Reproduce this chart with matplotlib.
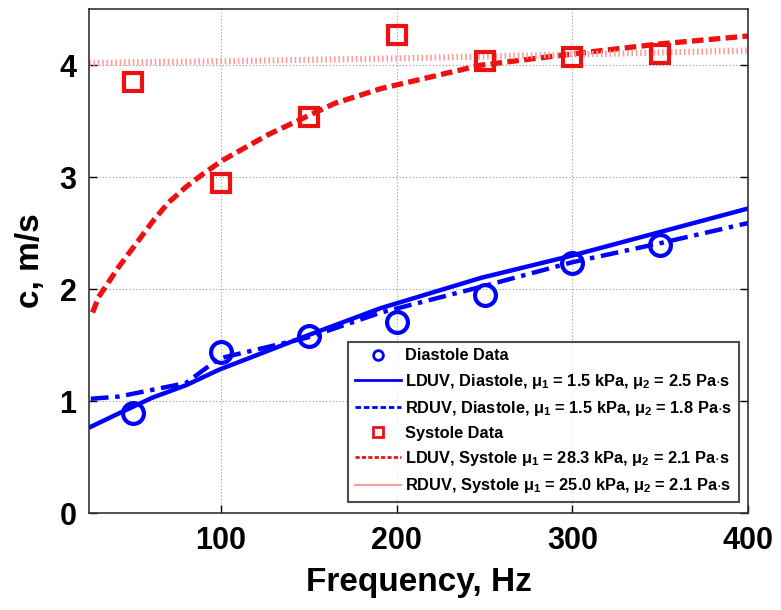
import matplotlib
matplotlib.use("Agg")
import matplotlib.pyplot as plt
import matplotlib.lines as mlines

fam = "Liberation Sans"
plt.rcParams["font.family"] = [fam, "DejaVu Sans"]
plt.rcParams["font.weight"] = "bold"
plt.rcParams["mathtext.fontset"] = "custom"
plt.rcParams["mathtext.rm"] = fam + ":bold"
plt.rcParams["mathtext.it"] = fam + ":bold"

# Measured data
freq_data = [50, 100, 150, 200, 250, 300, 350]
diastole_c = [0.89, 1.44, 1.58, 1.71, 1.95, 2.23, 2.39]
systole_c = [3.85, 2.95, 3.54, 4.27, 4.04, 4.07, 4.10]

# Model curves
f_ldd = [26, 42, 61, 80, 99, 150, 191, 248, 300, 350, 400]
c_ldd = [0.77, 0.89, 1.03, 1.14, 1.28, 1.59, 1.83, 2.10, 2.30, 2.51, 2.72]
f_rdd = [26, 42, 61, 80, 99, 150, 191, 248, 300, 350, 400]
c_rdd = [1.02, 1.04, 1.10, 1.16, 1.38, 1.57, 1.79, 2.02, 2.24, 2.41, 2.59]
f_lds = [27, 30.5, 42, 52, 61, 70, 80, 90, 101, 127, 150, 165, 191, 248, 300, 350, 400]
c_lds = [1.79, 1.93, 2.20, 2.41, 2.60, 2.77, 2.91, 3.03, 3.15, 3.38, 3.55, 3.66, 3.79, 4.00, 4.10, 4.19, 4.26]
f_rds = [25, 100, 200, 300, 400]
c_rds = [4.02, 4.035, 4.06, 4.095, 4.13]

labels = [
    "Diastole Data",
    r"LDUV, Diastole, $\mu_1$ = 1.5 kPa, $\mu_2$ = 2.5 Pa$\cdot$s",
    r"RDUV, Diastole, $\mu_1$ = 1.5 kPa, $\mu_2$ = 1.8 Pa$\cdot$s",
    "Systole Data",
    r"LDUV, Systole $\mu_1$ = 28.3 kPa, $\mu_2$ = 2.1 Pa$\cdot$s",
    r"RDUV, Systole $\mu_1$ = 25.0 kPa, $\mu_2$ = 2.1 Pa$\cdot$s",
]
xticks = [100, 200, 300, 400]
yticks = [0, 1, 2, 3, 4]

fig = plt.figure(figsize=(7.81, 6.10), dpi=100)
ax = fig.add_axes([0.114, 0.159, 0.844, 0.826])

blue = "#0000ff"
red = "#ee1111"
pink = "#ff9a9a"

ax.plot(freq_data, diastole_c, "o", mfc="none", mec=blue, ms=15, mew=3, zorder=5)
ax.plot(f_ldd, c_ldd, "-", color=blue, lw=3.2)
ax.plot(f_rdd, c_rdd, color=blue, lw=3.2, linestyle=(0, (4, 1.5, 1, 1.5)))
ax.plot(freq_data, systole_c, "s", mfc="none", mec=red, ms=13, mew=3, zorder=5)
ax.plot(f_lds, c_lds, color=red, lw=3.8, linestyle=(0, (2.2, 1.0)))
ax.plot(f_rds, c_rds, color=pink, lw=4.5, linestyle=(0, (0.25, 0.45)))

ax.set_xlim(25, 400)
ax.set_ylim(0, 4.5)
ax.set_xticks(xticks)
ax.set_yticks(yticks)
ax.tick_params(axis="both", direction="in", labelsize=22, length=6, width=1,
               top=False, right=True, pad=9)
for lab in ax.get_xticklabels() + ax.get_yticklabels():
    lab.set_fontweight("bold")
ax.grid(True, linestyle=(0, (1, 2)), color="#999999", lw=0.8)
for s in ax.spines.values():
    s.set_linewidth(1.2)
    s.set_color("#333333")

ax.set_xlabel("Frequency, Hz", fontsize=24, fontweight="bold", labelpad=8)
ax.set_ylabel("c, m/s", fontsize=24, fontweight="bold", labelpad=10)

lh1 = mlines.Line2D([], [], ls="none", marker="o", mfc="none", mec=blue, ms=7, mew=2)
lh2 = mlines.Line2D([], [], color=blue, lw=2)
lh3 = mlines.Line2D([], [], color=blue, lw=2, ls=(0, (2, 1)))
lh4 = mlines.Line2D([], [], ls="none", marker="s", mfc="none", mec=red, ms=6.5, mew=2)
lh5 = mlines.Line2D([], [], color=red, lw=2, ls=(0, (1.5, 0.8)))
lh6 = mlines.Line2D([], [], color=pink, lw=1.5)
leg = ax.legend([lh1, lh2, lh3, lh4, lh5, lh6], labels, loc="lower left",
                bbox_to_anchor=(0.393, 0.022), fontsize=11.8, frameon=True,
                fancybox=False, edgecolor="#222222", handlelength=2.8,
                handletextpad=0.3, labelspacing=0.5, borderpad=0.4,
                borderaxespad=0)
leg.get_frame().set_linewidth(1.5)
for t in leg.get_texts():
    t.set_fontweight("bold")

fig.savefig("out.png", dpi=100)
